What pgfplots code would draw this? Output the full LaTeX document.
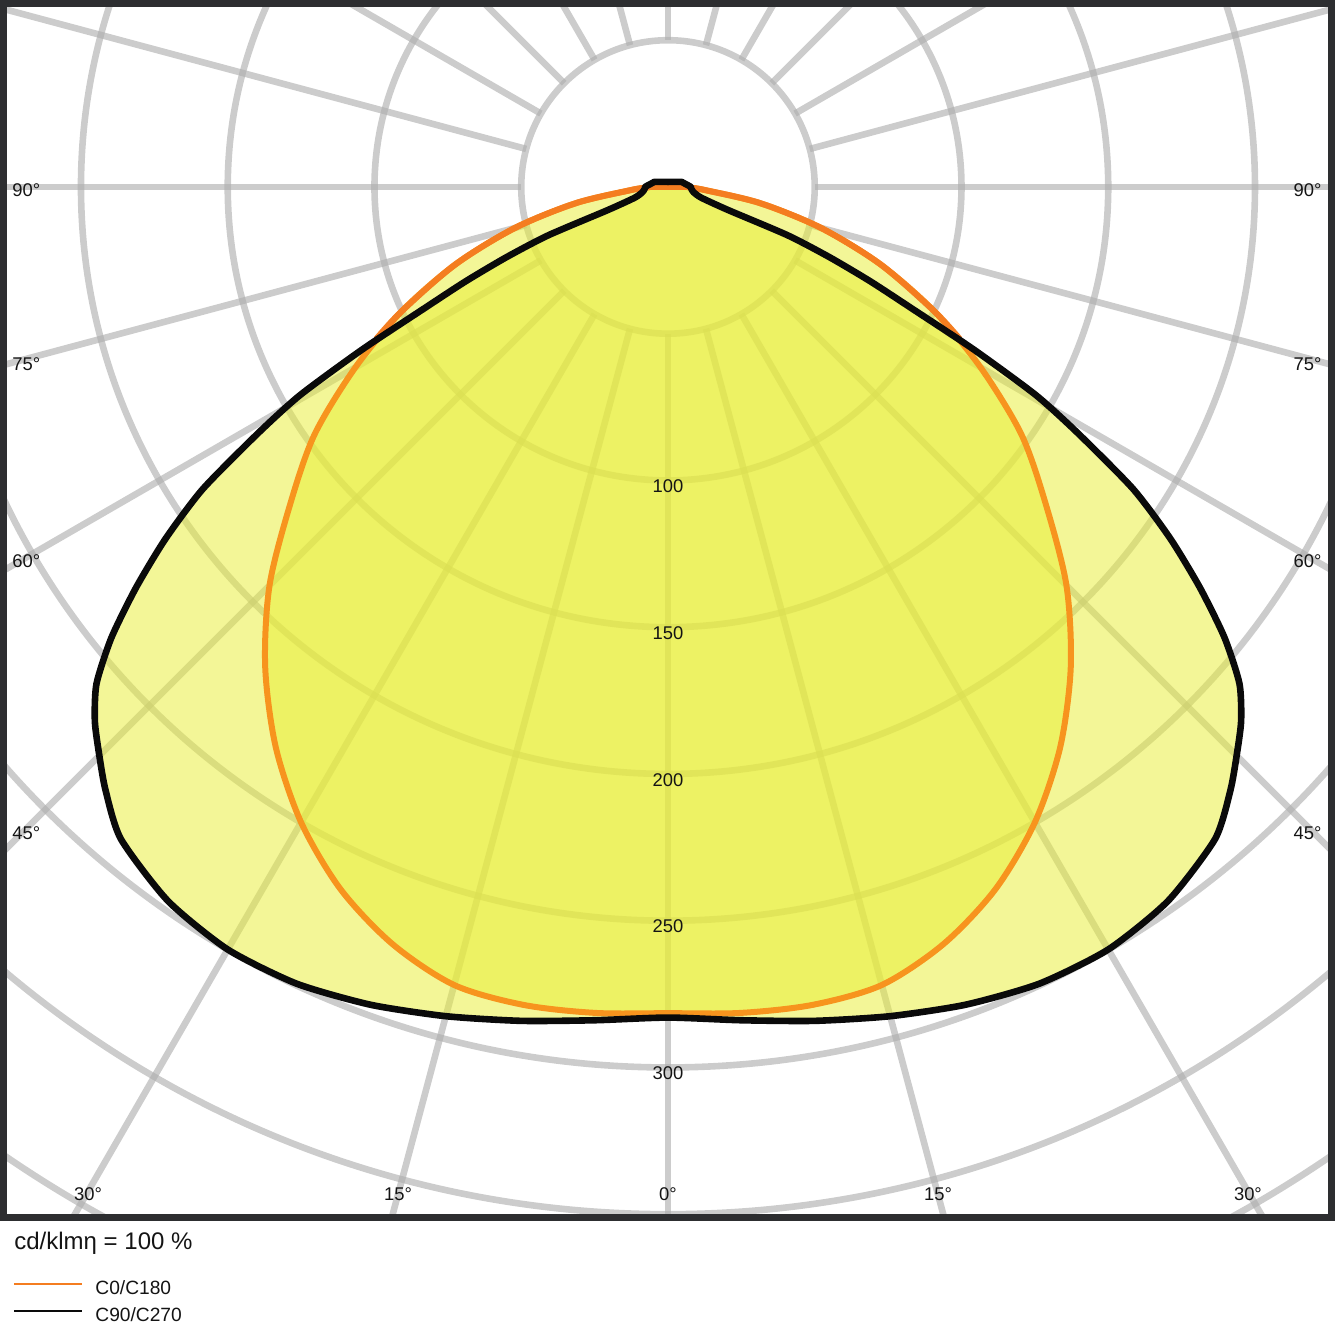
\documentclass[border=0pt]{standalone}
\usepackage{fontspec}
\setmainfont{Liberation Sans}
\usepackage{pgfplots}
\pgfplotsset{compat=1.18}
\usepackage{pgfplotstable}
\definecolor{framec}{RGB}{45,46,48}
\definecolor{gridgray}{RGB}{174,174,174}
\definecolor{lumyellow}{RGB}{232,238,55}
\definecolor{lumorange}{RGB}{244,125,32}
\definecolor{lumorangein}{RGB}{247,148,30}
\definecolor{lumblack}{RGB}{10,10,10}
\definecolor{txt}{RGB}{20,20,20}
\tikzset{gridline/.style={draw=gridgray, draw opacity=0.63, line width=3.3pt}}

% C0/C180: polar angle a (deg, 270 = straight down), intensity r (cd/klm)
\pgfplotstableread{
a r
180 6
182 8
185 13
190 32
195 54
200 77
205 100
210 123
215 147
220 168
225 192
230 213.5
235 233
240 250
245 264
250 274.5
255 281.5
260 283
265 282.5
270 281.5
275 282.5
280 283
285 281.5
290 274.5
295 264
300 250
305 233
310 213.5
315 192
320 168
325 147
330 123
335 100
340 77
345 54
350 32
355 13
358 8
360 6
540 6
}\orangedata

% C0/C180, part outside the C90/C270 curve (left)
\pgfplotstableread{
a r
180 6
182 8
185 13
190 32
195 54
200 77
205 100
207.5 112
}\orangetopleft

% C0/C180, part outside the C90/C270 curve (right)
\pgfplotstableread{
a r
332.5 112
335 100
340 77
345 54
350 32
355 13
358 8
360 6
540 6
}\orangetopright

% C90/C270
\pgfplotstableread{
a r
90 1.7
120 2
140 2.7
160 5
170 6
180 7.8
185 8
192 9
198 12
201 22
202 44
203.5 60
205 76
206.5 93
208 118
209.5 144
211 163
213 189
215 209
217 227
219 244
221 258
223 267
225 274
227 281
230 290
235 297
240 300
245 299.5
250 296.5
255 292.5
260 288.5
265 285
270 283
275 285
280 288.5
285 292.5
290 296.5
295 299.5
300 300
305 297
310 290
313 281
315 274
317 267
319 258
321 244
323 227
325 209
327 189
329 163
330.5 144
332 118
333.5 93
335 76
336.5 60
338 44
339 22
342 12
348 9
355 8
360 7.8
370 6
380 5
400 2.7
420 2
450 1.7
}\blackdata

\begin{document}
\begin{tikzpicture}
\useasboundingbox (0,0) rectangle (667.5pt,-667.5pt);
\begin{axis}[
  at={(1.75pt,-1.75pt)}, anchor=north west,
  scale only axis,
  x=1.4675pt, y=1.4675pt,
  xmin=-226.4, xmax=226.2, ymin=-351.1, ymax=62.5,
  ticks=none,
  axis on top,
  axis line style={line width=3.5pt, draw=framec, line join=miter},
  clip=true,
]
\pgfplotsinvokeforeach{50,100,...,400}{
  \draw[gridline] (axis cs:0,0) circle[radius=#1];
}
\pgfplotsinvokeforeach{0,15,...,345}{
  \draw[gridline] (axis cs:{50*cos(#1)},{50*sin(#1)}) -- (axis cs:{600*cos(#1)},{600*sin(#1)});
}
\addplot[data cs=polar, draw=none, fill=lumyellow, fill opacity=0.52, smooth, tension=0.5] table[x=a, y=r] {\orangedata};
\addplot[data cs=polar, draw=none, fill=lumyellow, fill opacity=0.52, smooth, tension=0.4] table[x=a, y=r] {\blackdata};
\addplot[data cs=polar, draw=lumorangein, line width=3pt, line join=round, smooth, tension=0.5] table[x=a, y=r] {\orangedata};
\addplot[data cs=polar, draw=lumorange, line width=3pt, line join=round, smooth, tension=0.5] table[x=a, y=r] {\orangetopleft};
\addplot[data cs=polar, draw=lumorange, line width=3pt, line join=round, smooth, tension=0.5] table[x=a, y=r] {\orangetopright};
\addplot[data cs=polar, draw=lumblack, line width=3.3pt, line join=round, smooth, tension=0.4] table[x=a, y=r] {\blackdata};

\begin{scope}[every node/.style={font=\fontsize{9.2}{11}\selectfont, text=txt, inner sep=0pt}]
\node at (axis cs:0,-102) {100};
\node at (axis cs:0,-152) {150};
\node at (axis cs:0,-202) {200};
\node at (axis cs:0,-252) {250};
\node at (axis cs:0,-302) {300};
\node[anchor=west] at (axis cs:-223.5,-1.0) {90°};
\node[anchor=west] at (axis cs:-223.5,-60.3) {75°};
\node[anchor=west] at (axis cs:-223.5,-127.4) {60°};
\node[anchor=west] at (axis cs:-223.5,-220.1) {45°};
\node[anchor=east] at (axis cs:222.8,-1.0) {90°};
\node[anchor=east] at (axis cs:222.8,-60.3) {75°};
\node[anchor=east] at (axis cs:222.8,-127.4) {60°};
\node[anchor=east] at (axis cs:222.8,-220.1) {45°};
\node at (axis cs:-197.6,-343.1) {30°};
\node at (axis cs:-92.0,-343.1) {15°};
\node at (axis cs:0,-343.1) {0°};
\node at (axis cs:92.0,-343.1) {15°};
\node at (axis cs:197.6,-343.1) {30°};
\end{scope}
\end{axis}
\node[anchor=base west, inner sep=0pt, text=txt, font=\fontsize{12}{14}\selectfont] at (7pt,-624.5pt) {cd/klmη = 100 \%};
\draw[lumorange, line width=1pt] (7pt,-642pt) -- (41pt,-642pt);
\draw[lumblack, line width=1pt] (7pt,-655.5pt) -- (41pt,-655.5pt);
\node[anchor=base west, inner sep=0pt, text=txt, font=\fontsize{9.6}{11}\selectfont] at (47.5pt,-647pt) {C0/C180};
\node[anchor=base west, inner sep=0pt, text=txt, font=\fontsize{9.6}{11}\selectfont] at (47.5pt,-660.5pt) {C90/C270};
\end{tikzpicture}
\end{document}
